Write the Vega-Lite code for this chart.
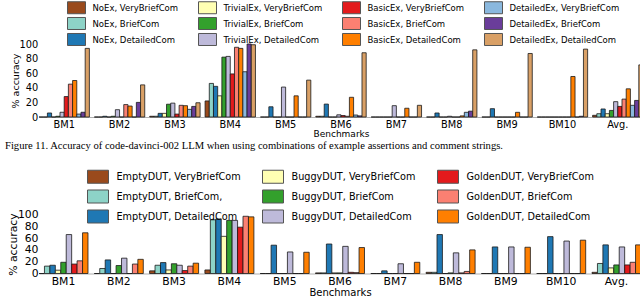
{
"$schema": "https://vega.github.io/schema/vega-lite/v6.json",
"padding": {"left": 5, "top": 0, "right": 0, "bottom": 0},
"background": "white",
"columns": 1,
"align": "none",
"spacing": 13.5,
"datasets": {
"top": [
{"bm":"BM1","s":"NoEx, VeryBriefCom","v":0},{"bm":"BM1","s":"NoEx, BriefCom","v":0},{"bm":"BM1","s":"NoEx, DetailedCom","v":5.5},{"bm":"BM1","s":"TrivialEx, VeryBriefCom","v":0},{"bm":"BM1","s":"TrivialEx, BriefCom","v":1},{"bm":"BM1","s":"TrivialEx, DetailedCom","v":6.5},{"bm":"BM1","s":"BasicEx, VeryBriefCom","v":28},{"bm":"BM1","s":"BasicEx, BriefCom","v":45},{"bm":"BM1","s":"BasicEx, DetailedCom","v":50},{"bm":"BM1","s":"DetailedEx, VeryBriefCom","v":4},{"bm":"BM1","s":"DetailedEx, BriefCom","v":6.5},{"bm":"BM1","s":"DetailedEx, DetailedCom","v":94},
{"bm":"BM2","s":"NoEx, VeryBriefCom","v":0},{"bm":"BM2","s":"NoEx, BriefCom","v":0},{"bm":"BM2","s":"NoEx, DetailedCom","v":1},{"bm":"BM2","s":"TrivialEx, VeryBriefCom","v":0},{"bm":"BM2","s":"TrivialEx, BriefCom","v":1},{"bm":"BM2","s":"TrivialEx, DetailedCom","v":10},{"bm":"BM2","s":"BasicEx, VeryBriefCom","v":0},{"bm":"BM2","s":"BasicEx, BriefCom","v":17},{"bm":"BM2","s":"BasicEx, DetailedCom","v":15},{"bm":"BM2","s":"DetailedEx, VeryBriefCom","v":0},{"bm":"BM2","s":"DetailedEx, BriefCom","v":20},{"bm":"BM2","s":"DetailedEx, DetailedCom","v":44},
{"bm":"BM3","s":"NoEx, VeryBriefCom","v":1},{"bm":"BM3","s":"NoEx, BriefCom","v":1},{"bm":"BM3","s":"NoEx, DetailedCom","v":5},{"bm":"BM3","s":"TrivialEx, VeryBriefCom","v":5},{"bm":"BM3","s":"TrivialEx, BriefCom","v":17.5},{"bm":"BM3","s":"TrivialEx, DetailedCom","v":19},{"bm":"BM3","s":"BasicEx, VeryBriefCom","v":4},{"bm":"BM3","s":"BasicEx, BriefCom","v":16},{"bm":"BM3","s":"BasicEx, DetailedCom","v":15.5},{"bm":"BM3","s":"DetailedEx, VeryBriefCom","v":10.5},{"bm":"BM3","s":"DetailedEx, BriefCom","v":14.5},{"bm":"BM3","s":"DetailedEx, DetailedCom","v":19.5},
{"bm":"BM4","s":"NoEx, VeryBriefCom","v":22},{"bm":"BM4","s":"NoEx, BriefCom","v":46},{"bm":"BM4","s":"NoEx, DetailedCom","v":42},{"bm":"BM4","s":"TrivialEx, VeryBriefCom","v":29},{"bm":"BM4","s":"TrivialEx, BriefCom","v":82},{"bm":"BM4","s":"TrivialEx, DetailedCom","v":83},{"bm":"BM4","s":"BasicEx, VeryBriefCom","v":59},{"bm":"BM4","s":"BasicEx, BriefCom","v":95.5},{"bm":"BM4","s":"BasicEx, DetailedCom","v":94},{"bm":"BM4","s":"DetailedEx, VeryBriefCom","v":62},{"bm":"BM4","s":"DetailedEx, BriefCom","v":100},{"bm":"BM4","s":"DetailedEx, DetailedCom","v":99},
{"bm":"BM5","s":"NoEx, VeryBriefCom","v":0},{"bm":"BM5","s":"NoEx, BriefCom","v":0},{"bm":"BM5","s":"NoEx, DetailedCom","v":14},{"bm":"BM5","s":"TrivialEx, VeryBriefCom","v":0},{"bm":"BM5","s":"TrivialEx, BriefCom","v":0},{"bm":"BM5","s":"TrivialEx, DetailedCom","v":41},{"bm":"BM5","s":"BasicEx, VeryBriefCom","v":0},{"bm":"BM5","s":"BasicEx, BriefCom","v":0},{"bm":"BM5","s":"BasicEx, DetailedCom","v":29},{"bm":"BM5","s":"DetailedEx, VeryBriefCom","v":0},{"bm":"BM5","s":"DetailedEx, BriefCom","v":0},{"bm":"BM5","s":"DetailedEx, DetailedCom","v":50.5},
{"bm":"BM6","s":"NoEx, VeryBriefCom","v":1},{"bm":"BM6","s":"NoEx, BriefCom","v":1},{"bm":"BM6","s":"NoEx, DetailedCom","v":17.7},{"bm":"BM6","s":"TrivialEx, VeryBriefCom","v":0},{"bm":"BM6","s":"TrivialEx, BriefCom","v":0},{"bm":"BM6","s":"TrivialEx, DetailedCom","v":3},{"bm":"BM6","s":"BasicEx, VeryBriefCom","v":2},{"bm":"BM6","s":"BasicEx, BriefCom","v":1},{"bm":"BM6","s":"BasicEx, DetailedCom","v":27},{"bm":"BM6","s":"DetailedEx, VeryBriefCom","v":2.7},{"bm":"BM6","s":"DetailedEx, BriefCom","v":1.5},{"bm":"BM6","s":"DetailedEx, DetailedCom","v":88},
{"bm":"BM7","s":"NoEx, VeryBriefCom","v":0},{"bm":"BM7","s":"NoEx, BriefCom","v":0},{"bm":"BM7","s":"NoEx, DetailedCom","v":0},{"bm":"BM7","s":"TrivialEx, VeryBriefCom","v":0},{"bm":"BM7","s":"TrivialEx, BriefCom","v":0},{"bm":"BM7","s":"TrivialEx, DetailedCom","v":15.5},{"bm":"BM7","s":"BasicEx, VeryBriefCom","v":0},{"bm":"BM7","s":"BasicEx, BriefCom","v":0},{"bm":"BM7","s":"BasicEx, DetailedCom","v":12},{"bm":"BM7","s":"DetailedEx, VeryBriefCom","v":0},{"bm":"BM7","s":"DetailedEx, BriefCom","v":0},{"bm":"BM7","s":"DetailedEx, DetailedCom","v":16},
{"bm":"BM8","s":"NoEx, VeryBriefCom","v":0},{"bm":"BM8","s":"NoEx, BriefCom","v":0},{"bm":"BM8","s":"NoEx, DetailedCom","v":5.5},{"bm":"BM8","s":"TrivialEx, VeryBriefCom","v":0},{"bm":"BM8","s":"TrivialEx, BriefCom","v":0},{"bm":"BM8","s":"TrivialEx, DetailedCom","v":1},{"bm":"BM8","s":"BasicEx, VeryBriefCom","v":0},{"bm":"BM8","s":"BasicEx, BriefCom","v":0},{"bm":"BM8","s":"BasicEx, DetailedCom","v":1.5},{"bm":"BM8","s":"DetailedEx, VeryBriefCom","v":6.4},{"bm":"BM8","s":"DetailedEx, BriefCom","v":8},{"bm":"BM8","s":"DetailedEx, DetailedCom","v":92},
{"bm":"BM9","s":"NoEx, VeryBriefCom","v":0},{"bm":"BM9","s":"NoEx, BriefCom","v":0},{"bm":"BM9","s":"NoEx, DetailedCom","v":11.4},{"bm":"BM9","s":"TrivialEx, VeryBriefCom","v":0},{"bm":"BM9","s":"TrivialEx, BriefCom","v":0},{"bm":"BM9","s":"TrivialEx, DetailedCom","v":0},{"bm":"BM9","s":"BasicEx, VeryBriefCom","v":0},{"bm":"BM9","s":"BasicEx, BriefCom","v":0},{"bm":"BM9","s":"BasicEx, DetailedCom","v":6.4},{"bm":"BM9","s":"DetailedEx, VeryBriefCom","v":0},{"bm":"BM9","s":"DetailedEx, BriefCom","v":0},{"bm":"BM9","s":"DetailedEx, DetailedCom","v":87},
{"bm":"BM10","s":"NoEx, VeryBriefCom","v":0},{"bm":"BM10","s":"NoEx, BriefCom","v":0},{"bm":"BM10","s":"NoEx, DetailedCom","v":0},{"bm":"BM10","s":"TrivialEx, VeryBriefCom","v":0},{"bm":"BM10","s":"TrivialEx, BriefCom","v":0},{"bm":"BM10","s":"TrivialEx, DetailedCom","v":0},{"bm":"BM10","s":"BasicEx, VeryBriefCom","v":0},{"bm":"BM10","s":"BasicEx, BriefCom","v":0},{"bm":"BM10","s":"BasicEx, DetailedCom","v":55.5},{"bm":"BM10","s":"DetailedEx, VeryBriefCom","v":0},{"bm":"BM10","s":"DetailedEx, BriefCom","v":1},{"bm":"BM10","s":"DetailedEx, DetailedCom","v":93},
{"bm":"Avg.","s":"NoEx, VeryBriefCom","v":2.3},{"bm":"Avg.","s":"NoEx, BriefCom","v":4.5},{"bm":"Avg.","s":"NoEx, DetailedCom","v":11},{"bm":"Avg.","s":"TrivialEx, VeryBriefCom","v":4.5},{"bm":"Avg.","s":"TrivialEx, BriefCom","v":9},{"bm":"Avg.","s":"TrivialEx, DetailedCom","v":21},{"bm":"Avg.","s":"BasicEx, VeryBriefCom","v":14.5},{"bm":"Avg.","s":"BasicEx, BriefCom","v":24.5},{"bm":"Avg.","s":"BasicEx, DetailedCom","v":38.6},{"bm":"Avg.","s":"DetailedEx, VeryBriefCom","v":16},{"bm":"Avg.","s":"DetailedEx, BriefCom","v":22.7},{"bm":"Avg.","s":"DetailedEx, DetailedCom","v":71.4}
],
"bottom": [
{"bm":"BM1","s":"EmptyDUT, VeryBriefCom","v":0},{"bm":"BM1","s":"EmptyDUT, BriefCom,","v":12.5},{"bm":"BM1","s":"EmptyDUT, DetailedCom","v":14},{"bm":"BM1","s":"BuggyDUT, VeryBriefCom","v":5.6},{"bm":"BM1","s":"BuggyDUT, BriefCom","v":19},{"bm":"BM1","s":"BuggyDUT, DetailedCom","v":66},{"bm":"BM1","s":"GoldenDUT, VeryBriefCom","v":16},{"bm":"BM1","s":"GoldenDUT, BriefCom","v":21.5},{"bm":"BM1","s":"GoldenDUT, DetailedCom","v":69},
{"bm":"BM2","s":"EmptyDUT, VeryBriefCom","v":0},{"bm":"BM2","s":"EmptyDUT, BriefCom,","v":8.5},{"bm":"BM2","s":"EmptyDUT, DetailedCom","v":23},{"bm":"BM2","s":"BuggyDUT, VeryBriefCom","v":0},{"bm":"BM2","s":"BuggyDUT, BriefCom","v":13.5},{"bm":"BM2","s":"BuggyDUT, DetailedCom","v":26},{"bm":"BM2","s":"GoldenDUT, VeryBriefCom","v":0},{"bm":"BM2","s":"GoldenDUT, BriefCom","v":16},{"bm":"BM2","s":"GoldenDUT, DetailedCom","v":24},
{"bm":"BM3","s":"EmptyDUT, VeryBriefCom","v":4.5},{"bm":"BM3","s":"EmptyDUT, BriefCom,","v":14},{"bm":"BM3","s":"EmptyDUT, DetailedCom","v":18.5},{"bm":"BM3","s":"BuggyDUT, VeryBriefCom","v":6},{"bm":"BM3","s":"BuggyDUT, BriefCom","v":16.5},{"bm":"BM3","s":"BuggyDUT, DetailedCom","v":14},{"bm":"BM3","s":"GoldenDUT, VeryBriefCom","v":5},{"bm":"BM3","s":"GoldenDUT, BriefCom","v":12.5},{"bm":"BM3","s":"GoldenDUT, DetailedCom","v":17.5},
{"bm":"BM4","s":"EmptyDUT, VeryBriefCom","v":6},{"bm":"BM4","s":"EmptyDUT, BriefCom,","v":91},{"bm":"BM4","s":"EmptyDUT, DetailedCom","v":92.5},{"bm":"BM4","s":"BuggyDUT, VeryBriefCom","v":63},{"bm":"BM4","s":"BuggyDUT, BriefCom","v":90},{"bm":"BM4","s":"BuggyDUT, DetailedCom","v":90},{"bm":"BM4","s":"GoldenDUT, VeryBriefCom","v":78.5},{"bm":"BM4","s":"GoldenDUT, BriefCom","v":97},{"bm":"BM4","s":"GoldenDUT, DetailedCom","v":96},
{"bm":"BM5","s":"EmptyDUT, VeryBriefCom","v":0},{"bm":"BM5","s":"EmptyDUT, BriefCom,","v":0},{"bm":"BM5","s":"EmptyDUT, DetailedCom","v":48},{"bm":"BM5","s":"BuggyDUT, VeryBriefCom","v":0},{"bm":"BM5","s":"BuggyDUT, BriefCom","v":0},{"bm":"BM5","s":"BuggyDUT, DetailedCom","v":36.5},{"bm":"BM5","s":"GoldenDUT, VeryBriefCom","v":0},{"bm":"BM5","s":"GoldenDUT, BriefCom","v":0},{"bm":"BM5","s":"GoldenDUT, DetailedCom","v":36},
{"bm":"BM6","s":"EmptyDUT, VeryBriefCom","v":1},{"bm":"BM6","s":"EmptyDUT, BriefCom,","v":1},{"bm":"BM6","s":"EmptyDUT, DetailedCom","v":50},{"bm":"BM6","s":"BuggyDUT, VeryBriefCom","v":1},{"bm":"BM6","s":"BuggyDUT, BriefCom","v":1},{"bm":"BM6","s":"BuggyDUT, DetailedCom","v":46},{"bm":"BM6","s":"GoldenDUT, VeryBriefCom","v":2},{"bm":"BM6","s":"GoldenDUT, BriefCom","v":1.5},{"bm":"BM6","s":"GoldenDUT, DetailedCom","v":44},
{"bm":"BM7","s":"EmptyDUT, VeryBriefCom","v":0},{"bm":"BM7","s":"EmptyDUT, BriefCom,","v":0},{"bm":"BM7","s":"EmptyDUT, DetailedCom","v":4.5},{"bm":"BM7","s":"BuggyDUT, VeryBriefCom","v":0},{"bm":"BM7","s":"BuggyDUT, BriefCom","v":0},{"bm":"BM7","s":"BuggyDUT, DetailedCom","v":16.5},{"bm":"BM7","s":"GoldenDUT, VeryBriefCom","v":0},{"bm":"BM7","s":"GoldenDUT, BriefCom","v":0},{"bm":"BM7","s":"GoldenDUT, DetailedCom","v":19},
{"bm":"BM8","s":"EmptyDUT, VeryBriefCom","v":2},{"bm":"BM8","s":"EmptyDUT, BriefCom,","v":2},{"bm":"BM8","s":"EmptyDUT, DetailedCom","v":66},{"bm":"BM8","s":"BuggyDUT, VeryBriefCom","v":0},{"bm":"BM8","s":"BuggyDUT, BriefCom","v":1},{"bm":"BM8","s":"BuggyDUT, DetailedCom","v":35},{"bm":"BM8","s":"GoldenDUT, VeryBriefCom","v":1},{"bm":"BM8","s":"GoldenDUT, BriefCom","v":3.5},{"bm":"BM8","s":"GoldenDUT, DetailedCom","v":40},
{"bm":"BM9","s":"EmptyDUT, VeryBriefCom","v":0},{"bm":"BM9","s":"EmptyDUT, BriefCom,","v":0},{"bm":"BM9","s":"EmptyDUT, DetailedCom","v":45},{"bm":"BM9","s":"BuggyDUT, VeryBriefCom","v":0},{"bm":"BM9","s":"BuggyDUT, BriefCom","v":0},{"bm":"BM9","s":"BuggyDUT, DetailedCom","v":45},{"bm":"BM9","s":"GoldenDUT, VeryBriefCom","v":0},{"bm":"BM9","s":"GoldenDUT, BriefCom","v":0},{"bm":"BM9","s":"GoldenDUT, DetailedCom","v":44.5},
{"bm":"BM10","s":"EmptyDUT, VeryBriefCom","v":0},{"bm":"BM10","s":"EmptyDUT, BriefCom,","v":0},{"bm":"BM10","s":"EmptyDUT, DetailedCom","v":62.5},{"bm":"BM10","s":"BuggyDUT, VeryBriefCom","v":0},{"bm":"BM10","s":"BuggyDUT, BriefCom","v":0},{"bm":"BM10","s":"BuggyDUT, DetailedCom","v":55},{"bm":"BM10","s":"GoldenDUT, VeryBriefCom","v":0},{"bm":"BM10","s":"GoldenDUT, BriefCom","v":0},{"bm":"BM10","s":"GoldenDUT, DetailedCom","v":56.5},
{"bm":"Avg.","s":"EmptyDUT, VeryBriefCom","v":2},{"bm":"Avg.","s":"EmptyDUT, BriefCom,","v":17},{"bm":"Avg.","s":"EmptyDUT, DetailedCom","v":48.5},{"bm":"Avg.","s":"BuggyDUT, VeryBriefCom","v":9.5},{"bm":"Avg.","s":"BuggyDUT, BriefCom","v":14.5},{"bm":"Avg.","s":"BuggyDUT, DetailedCom","v":45},{"bm":"Avg.","s":"GoldenDUT, VeryBriefCom","v":14.5},{"bm":"Avg.","s":"GoldenDUT, BriefCom","v":19},{"bm":"Avg.","s":"GoldenDUT, DetailedCom","v":48.5}
]
},
"concat": [
{
"data": {"name": "top"},
"width": 604,
"height": 73,
"title": {"text": "Figure 11.  Accuracy of code-davinci-002 LLM when using combinations of example assertions and comment strings.", "orient": "bottom", "anchor": "start", "font": "Liberation Serif", "fontSize": 10.6, "fontWeight": "normal", "color": "#000", "offset": 2.5, "dx": -5},
"mark": {"type": "bar", "stroke": "#1a1a1a", "strokeWidth": 0.8},
"encoding": {
"x": {"field": "bm", "type": "nominal", "sort": null, "scale": {"paddingInner": 0.09, "paddingOuter": 0}, "axis": {"title": "Benchmarks", "labelAngle": 0, "labelFontSize": 9.8, "titleFontSize": 9, "labelPadding": 2, "titlePadding": 1, "domainColor": "#b0b0b0", "domainWidth": 1.2}},
"xOffset": {"field": "s", "type": "nominal", "scale": {"domain": ["NoEx, VeryBriefCom","NoEx, BriefCom","NoEx, DetailedCom","TrivialEx, VeryBriefCom","TrivialEx, BriefCom","TrivialEx, DetailedCom","BasicEx, VeryBriefCom","BasicEx, BriefCom","BasicEx, DetailedCom","DetailedEx, VeryBriefCom","DetailedEx, BriefCom","DetailedEx, DetailedCom"], "paddingInner": 0, "paddingOuter": 0}},
"y": {"field": "v", "type": "quantitative", "scale": {"domain": [0, 100], "nice": false}, "axis": {"title": "% accuracy", "values": [0, 20, 40, 60, 80, 100], "domain": false, "ticks": false, "labelFontSize": 9.8, "titleFontSize": 9.5, "labelPadding": 1.3, "titlePadding": -1}},
"color": {"field": "s", "type": "nominal",
"scale": {"domain": ["NoEx, VeryBriefCom","NoEx, BriefCom","NoEx, DetailedCom","TrivialEx, VeryBriefCom","TrivialEx, BriefCom","TrivialEx, DetailedCom","BasicEx, VeryBriefCom","BasicEx, BriefCom","BasicEx, DetailedCom","DetailedEx, VeryBriefCom","DetailedEx, BriefCom","DetailedEx, DetailedCom"],
"range": ["#9a4a1c","#8dd3c7","#1f78b4","#ffffb3","#33a02c","#bebada","#e31a1c","#fb8072","#ff7f00","#8ab8de","#6a3d9a","#d9a066"]},
"legend": {"title": null, "orient": "none", "legendX": 28, "legendY": -44, "columns": 4, "symbolType": "M-1,-0.889H1V0.444H-1Z", "symbolSize": 324, "symbolStrokeColor": "#555", "symbolStrokeWidth": 1, "symbolOpacity": 1, "labelFont": "DejaVu Sans", "labelFontSize": 8.5, "labelColor": "#000", "labelOffset": 6.5, "columnPadding": 17, "rowPadding": -1.7, "padding": 0, "labelLimit": 300,
"encode": {"labels": {"update": {"dy": {"value": -2}}}}}}
}
},
{
"data": {"name": "bottom"},
"width": 602,
"height": 59,
"mark": {"type": "bar", "stroke": "#1a1a1a", "strokeWidth": 0.8},
"encoding": {
"x": {"field": "bm", "type": "nominal", "sort": null, "scale": {"paddingInner": 0.114, "paddingOuter": 0}, "axis": {"title": "Benchmarks", "labelAngle": 0, "labelFontSize": 10.8, "titleFontSize": 10, "labelPadding": 2, "titlePadding": 1, "domainColor": "#b0b0b0", "domainWidth": 1.2}},
"xOffset": {"field": "s", "type": "nominal", "scale": {"domain": ["EmptyDUT, VeryBriefCom","EmptyDUT, BriefCom,","EmptyDUT, DetailedCom","BuggyDUT, VeryBriefCom","BuggyDUT, BriefCom","BuggyDUT, DetailedCom","GoldenDUT, VeryBriefCom","GoldenDUT, BriefCom","GoldenDUT, DetailedCom"], "paddingInner": 0, "paddingOuter": 0}},
"y": {"field": "v", "type": "quantitative", "scale": {"domain": [0, 100], "nice": false}, "axis": {"title": "% accuracy", "values": [0, 20, 40, 60, 80, 100], "domain": false, "ticks": false, "labelFontSize": 10.8, "titleFontSize": 10.8, "labelPadding": 1, "titlePadding": -1}},
"color": {"field": "s", "type": "nominal",
"scale": {"domain": ["EmptyDUT, VeryBriefCom","EmptyDUT, BriefCom,","EmptyDUT, DetailedCom","BuggyDUT, VeryBriefCom","BuggyDUT, BriefCom","BuggyDUT, DetailedCom","GoldenDUT, VeryBriefCom","GoldenDUT, BriefCom","GoldenDUT, DetailedCom"],
"range": ["#9a4a1c","#8dd3c7","#1f78b4","#ffffb3","#33a02c","#bebada","#e31a1c","#fb8072","#ff7f00"]},
"legend": {"title": null, "orient": "none", "legendX": 48, "legendY": -49, "columns": 3, "symbolType": "M-1,-0.62H1V0.62H-1Z", "symbolSize": 441, "symbolStrokeColor": "#555", "symbolStrokeWidth": 1, "symbolOpacity": 1, "labelFont": "DejaVu Sans", "labelFontSize": 9.7, "labelColor": "#000", "labelOffset": 7.5, "columnPadding": 19, "rowPadding": -2.1, "padding": 0, "labelLimit": 300}}
}
}
],
"resolve": {"scale": {"x": "independent", "y": "independent", "xOffset": "independent", "color": "independent"}, "legend": {"color": "independent"}},
"config": {
"view": {"stroke": null},
"font": "DejaVu Sans",
"axis": {"labelFont": "DejaVu Sans", "titleFont": "DejaVu Sans", "titleFontWeight": "normal", "labelColor": "#000", "titleColor": "#000", "grid": false, "ticks": false}
}
}
